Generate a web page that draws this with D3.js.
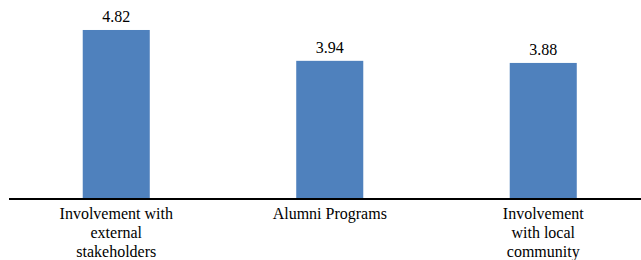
<!DOCTYPE html>
<meta charset="utf-8">
<script src="https://d3js.org/d3.v7.min.js"></script>
<body style="margin:0">
<div id="chart"></div>
<script>
var categories = ["Involvement with external stakeholders", "Alumni Programs", "Involvement with local community"];
var values = [4.82, 3.94, 3.88];
var tickLines = [
  ["Involvement with", "external", "stakeholders"],
  ["Alumni Programs"],
  ["Involvement", "with local", "community"]
];

var width = 641, height = 260;

var svg = d3.select("#chart").append("svg")
  .attr("width", width)
  .attr("height", height)
  .style("display", "block");

var x = d3.scaleBand()
  .domain(categories)
  .range([9.5, 650])
  .paddingInner(0.686)
  .paddingOuter(0.343);

var y = d3.scaleLinear()
  .domain([0, 6])
  .range([199, -11.4]);

svg.selectAll(".bar")
  .data(values)
  .enter().append("rect")
  .attr("class", "bar")
  .attr("x", function(d, i) { return x(categories[i]); })
  .attr("y", function(d) { return y(d); })
  .attr("width", x.bandwidth())
  .attr("height", function(d) { return y(0) - y(d); })
  .attr("fill", "#4f81bd");

svg.selectAll(".val")
  .data(values)
  .enter().append("text")
  .attr("class", "val")
  .attr("x", function(d, i) { return x(categories[i]) + x.bandwidth() / 2; })
  .attr("y", function(d) { return y(d) - 8; })
  .attr("text-anchor", "middle")
  .attr("font-family", "Liberation Serif")
  .attr("font-size", 16)
  .text(function(d) { return d.toFixed(2); });

// baseline
svg.append("line")
  .attr("x1", 9).attr("x2", width)
  .attr("y1", y(0)).attr("y2", y(0))
  .attr("stroke", "#000")
  .attr("stroke-width", 2);

// wrapped category labels
svg.selectAll(".cat")
  .data(categories)
  .enter().append("text")
  .attr("class", "cat")
  .attr("text-anchor", "middle")
  .attr("font-family", "Liberation Serif")
  .attr("font-size", 16)
  .attr("x", function(d) { return x(d) + x.bandwidth() / 2; })
  .attr("y", 219)
  .each(function(d, i) {
    var t = d3.select(this);
    tickLines[i].forEach(function(line, j) {
      t.append("tspan")
        .attr("x", x(d) + x.bandwidth() / 2)
        .attr("dy", j === 0 ? 0 : 19)
        .text(line);
    });
  });
</script>
</body>
